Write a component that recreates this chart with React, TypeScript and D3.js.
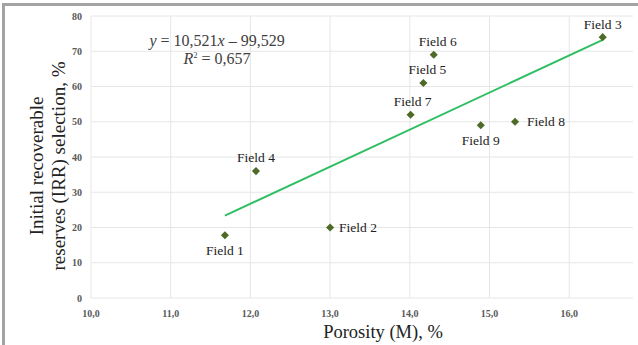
import React, { useEffect, useRef } from "react";
import * as d3 from "d3";

const fields = ["Field 1", "Field 2", "Field 3", "Field 4", "Field 5", "Field 6", "Field 7", "Field 8", "Field 9"];
const porosity = [11.68, 13.0, 16.42, 12.07, 14.17, 14.3, 14.01, 15.32, 14.89];
const irr = [17.8, 20, 74, 36, 61, 69, 52, 50, 49];
const xTicks = [10, 11, 12, 13, 14, 15, 16];
const yTicks = [0, 10, 20, 30, 40, 50, 60, 70, 80];
const slope = 10.521;
const intercept = -99.529;

// label placement relative to the marker: [dx, dy, anchor]
const labelPos: Record<string, [number, number, string]> = {
  "Field 1": [0, 20, "middle"],
  "Field 2": [9, 4, "start"],
  "Field 3": [0, -8, "middle"],
  "Field 4": [0, -9, "middle"],
  "Field 5": [4, -9, "middle"],
  "Field 6": [4, -9, "middle"],
  "Field 7": [2, -9, "middle"],
  "Field 8": [12, 4, "start"],
  "Field 9": [0, 20, "middle"],
};

const W = 638;
const H = 345;
const serif = "'Liberation Serif', 'Times New Roman', serif";

const App = () => {
  const ref = useRef<SVGSVGElement>(null);

  useEffect(() => {
    const svg = d3.select(ref.current);
    svg.selectAll("*").remove();

    const x = d3.scaleLinear().domain([10, 16.8]).range([91, 633]);
    const y = d3.scaleLinear().domain([0, 80]).range([298, 16]);

    // frame
    svg.append("path")
      .attr("d", `M3.5,${H} V4.5 H${W}`)
      .attr("fill", "none")
      .attr("stroke", "#a3a3a3")
      .attr("stroke-width", 3);

    // gridlines
    svg.append("g").selectAll("line").data(yTicks).join("line")
      .attr("x1", x(10)).attr("x2", x(16.8))
      .attr("y1", (d) => y(d)).attr("y2", (d) => y(d))
      .attr("stroke", "#e6e6e6").attr("stroke-width", 1);
    svg.append("g").selectAll("line").data(xTicks).join("line")
      .attr("x1", (d) => x(d)).attr("x2", (d) => x(d))
      .attr("y1", y(0)).attr("y2", y(80))
      .attr("stroke", "#e6e6e6").attr("stroke-width", 1);

    // tick labels
    svg.append("g").selectAll("text").data(yTicks).join("text")
      .attr("x", 82).attr("y", (d) => y(d) + 3.5)
      .attr("text-anchor", "end")
      .attr("font-family", serif).attr("font-size", 10).attr("font-weight", "bold")
      .attr("fill", "#595959")
      .text((d) => d);
    svg.append("g").selectAll("text").data(xTicks).join("text")
      .attr("x", (d) => x(d)).attr("y", 317)
      .attr("text-anchor", "middle")
      .attr("font-family", serif).attr("font-size", 10).attr("font-weight", "bold")
      .attr("fill", "#595959")
      .text((d) => d3.format(".1f")(d).replace(".", ","));

    // axis titles
    svg.append("text")
      .attr("x", 383).attr("y", 338)
      .attr("text-anchor", "middle")
      .attr("font-family", serif).attr("font-size", 18.5)
      .attr("fill", "#222")
      .text("Porosity (M), %");
    const yt = svg.append("text")
      .attr("transform", `translate(0,166) rotate(-90)`)
      .attr("text-anchor", "middle")
      .attr("font-family", serif).attr("font-size", 19)
      .attr("fill", "#222");
    yt.append("tspan").attr("x", 0).attr("y", 43).text("Initial recoverable");
    yt.append("tspan").attr("x", 0).attr("y", 65).text("reserves (IRR) selection, %");

    // trend line
    const xr = d3.extent(porosity) as [number, number];
    svg.append("line")
      .attr("x1", x(xr[0])).attr("y1", y(slope * xr[0] + intercept))
      .attr("x2", x(xr[1])).attr("y2", y(slope * xr[1] + intercept))
      .attr("stroke", "#2fbf62").attr("stroke-width", 2);

    // markers
    const pts = fields.map((f, i) => ({ f, px: porosity[i], py: irr[i] }));
    svg.append("g").selectAll("path").data(pts).join("path")
      .attr("transform", (d) => `translate(${x(d.px)},${y(d.py)})`)
      .attr("d", d3.symbol(d3.symbolDiamond2, 42)())
      .attr("fill", "#4e6b26");

    svg.append("g").selectAll("text").data(pts).join("text")
      .attr("x", (d) => x(d.px) + labelPos[d.f][0])
      .attr("y", (d) => y(d.py) + labelPos[d.f][1])
      .attr("text-anchor", (d) => labelPos[d.f][2])
      .attr("font-family", serif).attr("font-size", 13.5)
      .attr("fill", "#222")
      .text((d) => d.f);

    // equation
    const eq = svg.append("text")
      .attr("text-anchor", "middle")
      .attr("font-family", serif).attr("font-size", 16)
      .attr("fill", "#404040");
    const l1 = eq.append("tspan").attr("x", 217).attr("y", 46);
    l1.append("tspan").attr("font-style", "italic").text("y");
    l1.append("tspan").text(" = 10,521");
    l1.append("tspan").attr("font-style", "italic").text("x");
    l1.append("tspan").text(" – 99,529");
    const l2 = svg.append("text")
      .attr("text-anchor", "middle")
      .attr("font-family", serif).attr("font-size", 16)
      .attr("fill", "#404040")
      .attr("x", 217).attr("y", 64);
    l2.append("tspan").attr("font-style", "italic").text("R");
    l2.append("tspan").attr("font-size", 8).attr("dy", -6).text("2");
    l2.append("tspan").attr("dy", 6).text(" = 0,657");
  }, []);

  return (
    <svg ref={ref} width={W} height={H} style={{ position: "absolute", left: 0, top: 0, background: "#fff" }} />
  );
};

export default App;
